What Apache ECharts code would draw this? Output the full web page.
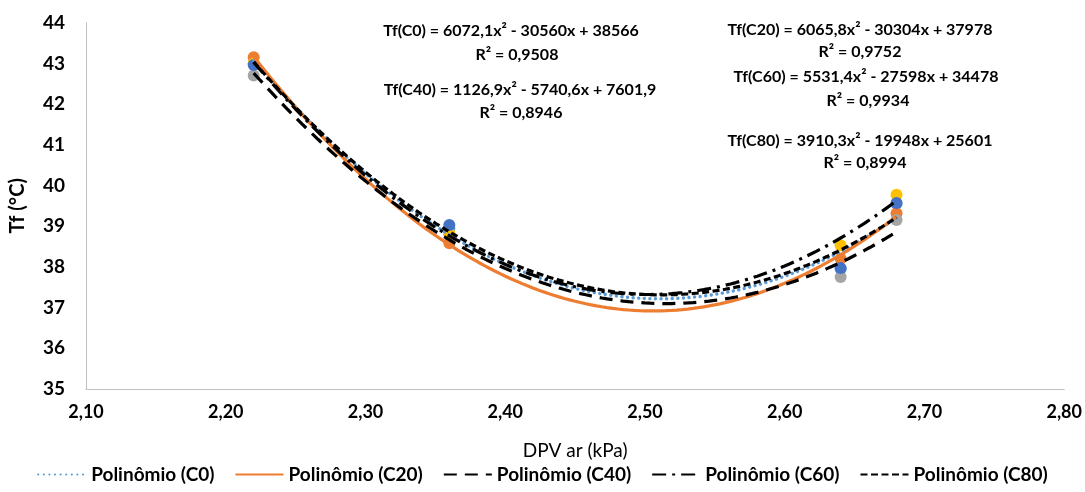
<!DOCTYPE html>
<html>
<head>
<meta charset="utf-8">
<script src="https://cdn.jsdelivr.net/npm/echarts@6/dist/echarts.min.js"></script>
<style>
html,body{margin:0;padding:0;background:#fff;}
#chart{width:1085px;height:492px;}
</style>
</head>
<body>
<div id="chart"></div>
<script>
// ---- data ----
const xDPV = [2.22, 2.36, 2.64, 2.68];
const tfC0  = [43.00, 38.95, 37.95, 39.55];
const tfC20 = [43.15, 38.58, 38.20, 39.32];
const tfC40 = [42.70, 38.80, 37.75, 39.15];
const tfC60 = [43.00, 38.83, 38.53, 39.77];
const tfC80 = [42.96, 39.03, 37.97, 39.57];
const seriesNames = ['C0', 'C20', 'C40', 'C60', 'C80'];
const equations = [
  'Tf(C0) = 6072,1x² - 30560x + 38566',
  'Tf(C20) = 6065,8x² - 30304x + 37978',
  'Tf(C40) = 1126,9x² - 5740,6x + 7601,9',
  'Tf(C60) = 5531,4x² - 27598x + 34478',
  'Tf(C80) = 3910,3x² - 19948x + 25601'
];
const r2Labels = ['R² = 0,9508', 'R² = 0,9752', 'R² = 0,8946', 'R² = 0,9934', 'R² = 0,8994'];

// ---- styles ----
const pointColors = ['#5B9BD5', '#ED7D31', '#A5A5A5', '#FFC000', '#4472C4'];
const trendStyles = [
  {color: '#5B9BD5', width: 3.4, type: [0.1, 5.5], cap: 'round'},
  {color: '#ED7D31', width: 3.2, type: 'solid', cap: 'butt'},
  {color: '#000000', width: 3.2, type: [13, 8], cap: 'butt'},
  {color: '#000000', width: 3.2, type: [14, 6, 3, 6], cap: 'butt'},
  {color: '#000000', width: 3.2, type: [7, 3.5], cap: 'butt'}
];
const FONT = 'Lato, "Open Sans", sans-serif';

// quadratic least-squares trendline (as the spreadsheet's "Polinômio" trendline)
function quadFit(xs, ys) {
  let S = [0,0,0,0,0], T = [0,0,0];
  for (let i = 0; i < xs.length; i++) {
    const x = xs[i], y = ys[i];
    let p = 1;
    for (let k = 0; k < 5; k++) { S[k] += p; if (k < 3) T[k] += p * y; p *= x; }
  }
  const A = [[S[0],S[1],S[2],T[0]],[S[1],S[2],S[3],T[1]],[S[2],S[3],S[4],T[2]]];
  for (let c = 0; c < 3; c++) {
    for (let r = c + 1; r < 3; r++) {
      const f = A[r][c] / A[c][c];
      for (let k = c; k < 4; k++) A[r][k] -= f * A[c][k];
    }
  }
  const b = [0,0,0];
  for (let r = 2; r >= 0; r--) {
    let s = A[r][3];
    for (let k = r + 1; k < 3; k++) s -= A[r][k] * b[k];
    b[r] = s / A[r][r];
  }
  return b;
}
function trendPoints(xs, ys) {
  const b = quadFit(xs, ys);
  const lo = Math.min(...xs), hi = Math.max(...xs);
  const pts = [];
  const n = 120;
  for (let i = 0; i <= n; i++) {
    const x = lo + (hi - lo) * i / n;
    pts.push([x, b[0] + b[1] * x + b[2] * x * x]);
  }
  return pts;
}

const allY = [tfC0, tfC20, tfC40, tfC60, tfC80];
const series = [];
allY.forEach((ys, i) => {
  series.push({
    name: seriesNames[i],
    type: 'scatter',
    data: xDPV.map((x, j) => [x, ys[j]]),
    symbolSize: 12,
    itemStyle: {color: pointColors[i], opacity: 1},
    z: 1,
    silent: true
  });
});
allY.forEach((ys, i) => {
  series.push({
    name: 'Polinômio (' + seriesNames[i] + ')',
    type: 'line',
    data: trendPoints(xDPV, ys),
    showSymbol: false,
    symbol: 'none',
    smooth: false,
    lineStyle: trendStyles[i],
    itemStyle: {color: trendStyles[i].color},
    z: 3 + i,
    silent: true
  });
});

const eqStyle = {font: 'bold 16px ' + FONT, fill: '#000', textAlign: 'center', textVerticalAlign: 'middle'};
const annot = [
  {t: equations[0], x: 511, y: 31}, {t: r2Labels[0], x: 517, y: 55},
  {t: equations[2], x: 520, y: 90}, {t: r2Labels[2], x: 521, y: 113},
  {t: equations[1], x: 860, y: 30}, {t: r2Labels[1], x: 860, y: 52},
  {t: equations[3], x: 866, y: 77}, {t: r2Labels[3], x: 868, y: 101},
  {t: equations[4], x: 860, y: 141}, {t: r2Labels[4], x: 865, y: 163}
];

const chart = echarts.init(document.getElementById('chart'), null, {renderer: 'canvas'});
chart.setOption({
  animation: false,
  backgroundColor: '#fff',
  grid: {left: 85, right: 17, top: 22.7, bottom: 103, containLabel: false},
  xAxis: {
    type: 'value', min: 2.1, max: 2.8, interval: 0.1,
    name: 'DPV ar (kPa)', nameLocation: 'middle', nameGap: 52,
    nameTextStyle: {fontFamily: FONT, fontSize: 19, color: '#000'},
    axisLine: {show: true, lineStyle: {color: '#BFBFBF', width: 1}},
    axisTick: {show: false},
    splitLine: {show: false},
    axisLabel: {fontFamily: FONT, fontSize: 18, fontWeight: 'bold', color: '#000', margin: 14,
      formatter: v => v.toFixed(2).replace('.', ',')}
  },
  yAxis: {
    type: 'value', min: 35, max: 44, interval: 1,
    name: 'Tf (°C)', nameLocation: 'middle', nameGap: 58, nameRotate: 90,
    nameTextStyle: {fontFamily: FONT, fontSize: 20, fontWeight: 'bold', color: '#000'},
    axisLine: {show: true, lineStyle: {color: '#BFBFBF', width: 1}},
    axisTick: {show: false},
    splitLine: {show: false},
    axisLabel: {fontFamily: FONT, fontSize: 19, fontWeight: 'bold', color: '#000', margin: 21}
  },
  legend: {
    data: seriesNames.map(n => 'Polinômio (' + n + ')'),
    bottom: 3, left: 'center',
    itemWidth: 48, itemHeight: 12, itemGap: 20,
    itemStyle: {opacity: 0},
    textStyle: {fontFamily: FONT, fontSize: 19, fontWeight: 'bold', color: '#000'},
    selectedMode: false
  },
  graphic: annot.map(a => ({type: 'text', x: a.x, y: a.y, silent: true,
    style: Object.assign({text: a.t}, eqStyle)})),
  series: series
});
</script>
</body>
</html>
